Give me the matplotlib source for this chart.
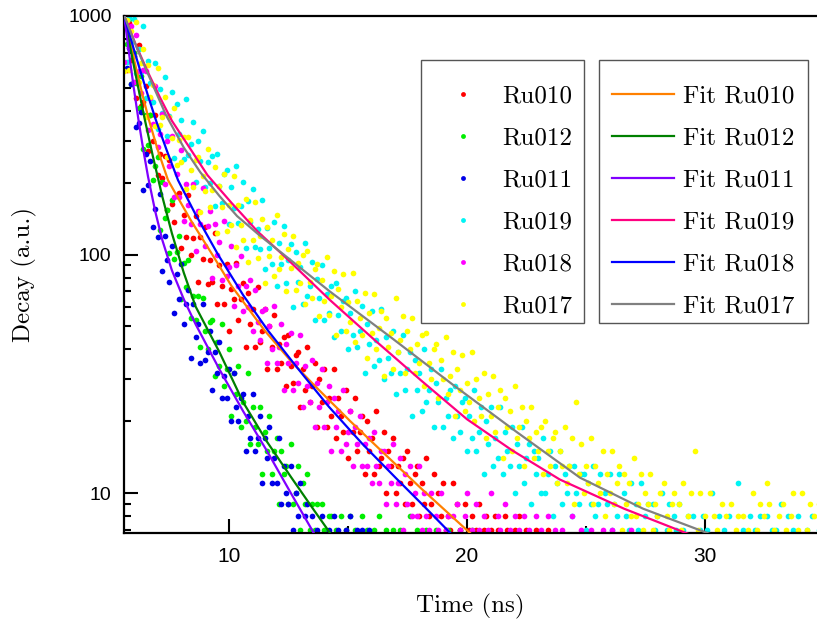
import numpy as np
import matplotlib
matplotlib.use("Agg")
import matplotlib.pyplot as plt
from matplotlib.patches import Rectangle
from matplotlib.font_manager import FontProperties
from matplotlib.ticker import FixedLocator, NullFormatter, LogLocator

# ---------------- data ----------------
t_start = 5.6      # ns, first channel shown
t_step = 0.1       # ns per channel

series_names = ["Ru010", "Ru012", "Ru011", "Ru019", "Ru018", "Ru017"]
fit_names = ["Fit Ru010", "Fit Ru012", "Fit Ru011", "Fit Ru019", "Fit Ru018", "Fit Ru017"]

ru011 = [960, 603, 735, 521, 680, 342, 355, 396, 187, 265,
         195, 247, 131, 155, 119, 179, 85, 120, 95, 77,
         109, 57, 83, 65, 91, 51, 62, 71, 37, 62,
         45, 51, 35, 62, 36, 39, 48, 27, 39, 32,
         43, 25, 31, 25, 33, 20, 32, 23, 20, 25,
         26, 15, 21, 17, 26, 15, 17, 21, 11, 17,
         14, 19, 11, 14, 11, 17, 9, 13, 10, 9,
         13, 7, 10, 8, 11, 6, 8, 9, 5, 8,
         6, 7, 5, 8, 5, 5, 7, 4, 8, 5,
         7, 6, 4, 7, 5, 8, 6, 4, 7, 5,
         7, 3, 6, 7, 4, 5, 3, 6, 4]
ru012 = [940, 763, 975, 517, 697, 526, 410, 559, 276, 383,
         288, 383, 205, 235, 256, 127, 201, 142, 154, 101,
         170, 96, 102, 120, 65, 92, 73, 95, 54, 67,
         53, 67, 41, 66, 48, 40, 52, 53, 31, 43,
         34, 51, 28, 33, 40, 21, 32, 26, 34, 19,
         24, 20, 32, 16, 23, 19, 16, 23, 12, 18,
         15, 21, 12, 15, 17, 9, 15, 12, 13, 9,
         16, 9, 10, 13, 7, 11, 9, 12, 7, 9,
         7, 9, 6, 9, 7, 6, 8, 8, 5, 7,
         5, 8, 4, 7, 6, 8, 5, 7, 4, 6,
         8, 5, 7, 6, 4, 7, 5, 8, 6, 4,
         7, 5, 6, 7, 4, 5, 7, 6, 4, 5,
         8, 6, 4, 7, 5, 3, 6, 7, 5, 4,
         6, 7, 5, 3, 6, 5, 7, 4, 6, 5,
         3, 7, 5, 4, 6, 5, 7, 4, 5, 3, 6]
ru010 = [960, 595, 935, 653, 697, 452, 758, 419, 437, 508,
         271, 384, 300, 384, 215, 265, 209, 260, 153, 249,
         163, 137, 178, 181, 106, 147, 119, 177, 100, 117,
         145, 77, 119, 96, 131, 75, 95, 77, 123, 62,
         90, 74, 62, 91, 48, 72, 65, 92, 53, 65,
         76, 41, 69, 51, 59, 41, 73, 43, 48, 59,
         33, 50, 41, 56, 33, 42, 35, 45, 28, 46,
         34, 29, 38, 39, 23, 33, 27, 41, 24, 28,
         35, 19, 30, 24, 33, 19, 25, 21, 33, 17,
         25, 21, 18, 27, 14, 22, 18, 25, 15, 18,
         21, 12, 20, 15, 17, 12, 22, 13, 14, 18,
         10, 15, 13, 17, 10, 13, 11, 14, 9, 15,
         11, 9, 12, 13, 8, 11, 9, 14, 8, 9,
         12, 6, 10, 8, 11, 7, 8, 7, 11, 6,
         9, 7, 6, 9, 5, 7, 8, 6, 7, 9,
         5, 7, 8, 6, 7, 5, 8, 7, 4, 6,
         8, 7, 5, 6, 7, 5, 8, 4, 6, 7,
         5, 6, 4, 7, 5, 6, 4, 5, 7, 3,
         5, 6, 4, 5, 3]
ru018 = [640, 951, 741, 912, 531, 836, 587, 475, 596, 589,
         333, 452, 353, 507, 282, 320, 388, 197, 298, 236,
         313, 175, 217, 175, 275, 138, 198, 162, 134, 197,
         103, 152, 134, 190, 109, 132, 152, 80, 134, 100,
         113, 78, 138, 81, 89, 109, 61, 90, 74, 99,
         58, 74, 60, 78, 48, 71, 52, 44, 58, 59,
         35, 50, 40, 61, 35, 41, 51, 27, 42, 35,
         47, 27, 35, 29, 46, 23, 34, 28, 24, 36,
         19, 29, 23, 33, 19, 24, 28, 15, 25, 19,
         22, 15, 27, 16, 18, 22, 13, 19, 16, 21,
         13, 16, 13, 17, 11, 18, 13, 11, 15, 15,
         9, 13, 11, 16, 9, 11, 14, 7, 12, 9,
         13, 8, 10, 8, 13, 7, 10, 8, 7, 10,
         6, 8, 7, 10, 6, 7, 8, 5, 8, 6,
         9, 7, 5, 8, 10, 6, 7, 5, 9, 7,
         6, 8, 4, 7, 10, 6, 5, 8, 7, 6,
         9, 5, 7, 6, 8, 4, 7, 6, 8, 5,
         7, 6, 4, 8, 6, 7, 5, 6, 8, 4,
         6, 7, 5, 6, 7, 4, 5, 6, 8, 5,
         4, 6, 7, 5, 6, 4, 7, 5, 6, 3,
         5, 7, 4, 6, 5, 7, 4, 6, 5, 3,
         6, 4, 5, 7, 4, 5, 3, 6, 4, 5]
ru019 = [960, 643, 982, 776, 970, 579, 726, 581, 912, 451,
         650, 525, 437, 638, 335, 492, 393, 555, 315, 381,
         480, 255, 429, 320, 365, 252, 448, 262, 291, 358,
         201, 299, 246, 329, 192, 244, 200, 260, 159, 263,
         194, 165, 217, 226, 134, 191, 156, 235, 135, 159,
         201, 106, 168, 137, 189, 108, 128, 105, 170, 87,
         129, 107, 91, 137, 74, 112, 91, 132, 76, 95,
         111, 60, 102, 77, 89, 62, 112, 67, 74, 93,
         53, 79, 66, 90, 53, 68, 57, 74, 45, 76,
         56, 48, 64, 66, 40, 57, 46, 70, 41, 48,
         61, 32, 51, 42, 58, 34, 44, 36, 59, 30,
         45, 37, 32, 48, 26, 39, 32, 46, 27, 33,
         39, 21, 36, 27, 32, 22, 40, 24, 27, 33,
         19, 29, 24, 33, 19, 25, 21, 27, 17, 28,
         21, 18, 24, 25, 15, 21, 17, 27, 15, 18,
         23, 12, 20, 16, 23, 13, 17, 14, 23, 12,
         18, 15, 13, 19, 10, 16, 13, 19, 11, 14,
         16, 9, 15, 12, 14, 10, 17, 10, 12, 15,
         8, 13, 11, 15, 9, 12, 10, 13, 8, 13,
         10, 9, 12, 12, 7, 11, 9, 13, 8, 9,
         12, 6, 10, 9, 12, 7, 9, 8, 12, 6,
         10, 8, 7, 11, 6, 9, 7, 11, 6, 8,
         9, 5, 9, 7, 8, 6, 10, 6, 7, 9,
         5, 8, 7, 9, 5, 7, 6, 8, 5, 8,
         6, 5, 7, 8, 5, 7, 6, 10, 5, 6,
         8, 4, 7, 6, 8, 5, 6, 5, 11, 5,
         7, 6, 5, 8, 4, 7, 6, 8, 5, 6,
         8, 4, 7, 6, 7, 5, 9, 5, 6, 8,
         4, 7, 6, 8, 5, 6, 5, 7, 5, 8,
         6, 5, 7]
ru017 = [590, 960, 593, 862, 678, 945, 530, 637, 725, 378,
         625, 458, 513, 347, 606, 350, 379, 458, 256, 377,
         308, 411, 238, 301, 244, 310, 189, 310, 227, 191,
         250, 257, 151, 214, 184, 276, 158, 186, 233, 123,
         194, 158, 217, 126, 162, 133, 214, 108, 161, 133,
         115, 171, 93, 140, 115, 166, 97, 120, 141, 76,
         131, 99, 115, 81, 146, 87, 98, 122, 70, 105,
         88, 120, 71, 92, 76, 100, 62, 103, 77, 66,
         87, 91, 55, 78, 64, 98, 56, 67, 85, 46,
         72, 60, 83, 48, 63, 52, 84, 43, 64, 54,
         46, 69, 37, 57, 47, 68, 40, 49, 58, 31,
         54, 41, 47, 33, 66, 39, 44, 55, 32, 48,
         40, 54, 32, 42, 35, 46, 28, 47, 35, 30,
         40, 42, 25, 36, 30, 45, 26, 31, 39, 21,
         33, 27, 38, 22, 29, 24, 39, 20, 30, 25,
         21, 32, 17, 26, 21, 31, 18, 23, 27, 14,
         25, 19, 22, 15, 28, 17, 19, 23, 13, 20,
         17, 23, 14, 18, 15, 19, 12, 20, 15, 13,
         17, 18, 11, 15, 13, 19, 11, 13, 17, 9,
         24, 12, 16, 10, 13, 11, 17, 9, 13, 11,
         10, 15, 8, 12, 10, 15, 9, 11, 13, 7,
         12, 9, 11, 8, 14, 8, 9, 12, 7, 10,
         9, 12, 7, 9, 8, 10, 6, 11, 8, 7,
         9, 10, 6, 9, 7, 11, 6, 8, 10, 5,
         15, 7, 10, 6, 8, 6, 10, 5, 8, 7,
         6, 9, 5, 8, 6, 9, 6, 7, 8, 5,
         8, 6, 7, 5, 10, 6, 7, 9, 5, 8,
         11, 9, 5, 7, 6, 8, 5, 9, 7, 6,
         8, 10, 5, 7, 6, 10, 6, 7, 9, 5,
         8, 6, 9]

# fitted curves (time in ns, decay value)
fit010_t = [5.6, 5.85, 6.1, 6.35, 6.64, 7.0, 7.44, 7.9, 8.4, 9.3, 10.1, 11.5, 12.6, 13.6, 15.1, 16.6, 18.1, 20.13, 20.8]
fit010_v = [1000, 772, 602, 474, 366, 276, 205, 170, 139, 100, 74, 48, 35.8, 28.2, 20, 14.4, 10.4, 6.8, 5.9]
fit012_t = [5.6, 5.8, 6.0, 6.2, 6.47, 6.8, 7.2, 7.6, 8.1, 8.6, 9.6, 10.6, 11.6, 12.6, 13.6, 14.25, 14.8]
fit012_v = [1000, 786, 622, 494, 366, 259, 175, 123, 84, 60.5, 39, 24, 16.4, 11.7, 8.4, 6.8, 5.6]
fit011_t = [5.6, 5.8, 6.0, 6.2, 6.4, 6.6, 6.9, 7.2, 7.6, 8.1, 8.6, 9.6, 10.6, 11.6, 12.6, 13.6, 14.1]
fit011_v = [1000, 700, 500, 366, 275, 212, 152, 115, 86, 65, 51, 33, 22, 15, 10, 6.7, 5.5]
fit019_t = [5.6, 6.1, 6.6, 7.1, 7.6, 8.35, 9.1, 10.1, 11.2, 12.3, 14.24, 16.1, 18.1, 20.0, 21.9, 23.9, 26.6, 29.2, 30.5]
fit019_v = [1000, 752, 580, 456, 364, 280, 215, 165, 125, 99, 64.5, 44, 29.5, 20.4, 15.1, 11.4, 8.6, 6.8, 6.1]
fit018_t = [5.6, 5.9, 6.25, 6.6, 6.93, 7.4, 7.86, 8.6, 9.54, 10.6, 11.64, 12.8, 14.2, 15.6, 17.0, 18.2, 19.3, 20.0]
fit018_v = [1000, 786, 600, 463, 366, 271, 205, 147, 100, 67.5, 48, 34.2, 23, 16.1, 11.6, 8.8, 6.8, 5.8]
fit017_t = [5.6, 6.2, 6.8, 7.35, 8.1, 8.8, 9.6, 10.34, 11.3, 12.3, 14.24, 16.8, 19.4, 22.1, 24.75, 27.4, 30.1, 31.5]
fit017_v = [1000, 706, 514, 385, 281, 221, 176, 145, 120, 100, 70, 45, 28.5, 18, 11.6, 8.6, 6.8, 6.1]

x_ticks = [10, 20, 30]
x_minor = [15, 25]
y_ticks = [10, 100, 1000]
y_ticklabels = ["10", "100", "1000"]

# ---------------- styles ----------------
data_colors = ["#ff0000", "#00ee00", "#0000e8", "#00f4f4", "#ff00ff", "#ffff00"]
fit_colors = ["#ff8000", "#008000", "#8000ff", "#ff0080", "#0000ff", "#808080"]

plt.rcParams["font.family"] = ["DejaVu Sans"]
serif = FontProperties(family="cmr10", size=18)

fig = plt.figure(figsize=(8.17, 6.21), dpi=100)
ax = fig.add_axes([124 / 817, 1 - 533 / 621, 693 / 817, 517 / 621])

series = [ru010, ru012, ru011, ru019, ru018, ru017]
data_handles = []
for name, counts, col in zip(series_names, series, data_colors):
    times = t_start + t_step * np.arange(len(counts))
    h, = ax.plot(times, counts, "o", ms=4.1, mew=0, color=col, label=name, zorder=2)
    data_handles.append(h)

fits = [(fit010_t, fit010_v), (fit012_t, fit012_v), (fit011_t, fit011_v),
        (fit019_t, fit019_v), (fit018_t, fit018_v), (fit017_t, fit017_v)]
fit_handles = []
for name, (ft, fv), col in zip(fit_names, fits, fit_colors):
    h, = ax.plot(ft, fv, "-", lw=1.6, color=col, label=name, zorder=3)
    fit_handles.append(h)

ax.set_yscale("log")
ax.set_xlim(5.59, 34.71)
ax.set_ylim(6.8, 1000)

ax.xaxis.set_major_locator(FixedLocator(x_ticks))
ax.xaxis.set_minor_locator(FixedLocator(x_minor))
ax.yaxis.set_major_locator(FixedLocator(y_ticks))
ax.set_yticklabels(y_ticklabels)
ax.yaxis.set_minor_locator(LogLocator(base=10, subs=np.arange(2, 10)))
ax.yaxis.set_minor_formatter(NullFormatter())

ax.tick_params(which="major", direction="in", length=10, width=1.5, labelsize=14, pad=9,
               top=False, right=False)
ax.tick_params(axis="x", which="major", pad=10, labelsize=15)
ax.tick_params(which="minor", direction="in", length=5, width=1.5, top=False, right=False)
for lab in ax.get_xticklabels() + ax.get_yticklabels():
    lab.set_fontfamily("Liberation Sans")

for side in ["left", "bottom", "top"]:
    ax.spines[side].set_linewidth(1.6)
ax.spines["right"].set_visible(False)

ax.set_xlabel("Time (ns)", fontproperties=serif)
ax.xaxis.set_label_coords(0.5, -0.117)
ax.set_ylabel("Decay (a.u.)", fontproperties=serif)
ax.yaxis.set_label_coords(-0.125, 0.5)

# legend frames
for x0, w in [((421 - 124) / 693, 163 / 693), ((599 - 124) / 693, 209 / 693)]:
    ax.add_patch(Rectangle((x0, (533 - 323) / 517), w, 263 / 517, transform=ax.transAxes,
                           facecolor="white", edgecolor="#555555", lw=1.0, zorder=5,
                           clip_on=False))

leg1 = ax.legend(handles=data_handles, loc="upper left",
                 bbox_to_anchor=((440 - 124) / 693, (533 - 85) / 517),
                 bbox_transform=ax.transAxes, frameon=False, borderpad=0, borderaxespad=0,
                 handlelength=1.84, handletextpad=0.64, labelspacing=0.78, prop=serif,
                 numpoints=1, markerscale=0.85)
leg1.set_zorder(6)
ax.add_artist(leg1)
leg2 = ax.legend(handles=fit_handles, loc="upper left",
                 bbox_to_anchor=((612 - 124) / 693, (533 - 85) / 517),
                 bbox_transform=ax.transAxes, frameon=False, borderpad=0, borderaxespad=0,
                 handlelength=2.48, handletextpad=0.36, labelspacing=0.78, prop=serif)
leg2.set_zorder(6)

fig.savefig("out.png", dpi=100)
